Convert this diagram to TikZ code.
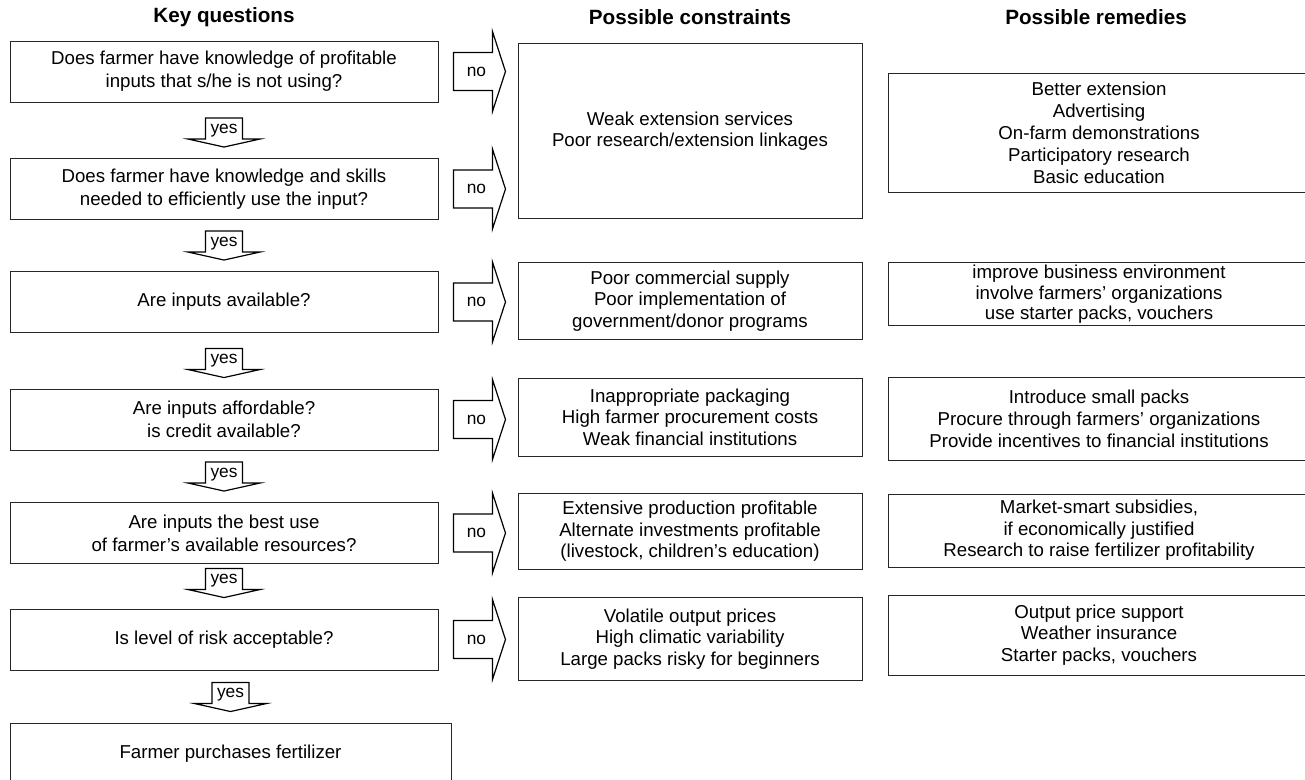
\documentclass[tikz,border=0pt]{standalone}
\usepackage{fontspec}
\setmainfont{Liberation Sans}

\begin{document}
\begin{tikzpicture}[x=0.75pt,y=-0.75pt]
					\tikzstyle{heading} = [font=\fontsize{15.5}{18}\selectfont\bfseries]
					\tikzstyle{question} = [draw=black!85,line width=0.7pt,align=center,inner ysep=1pt,minimum width=321pt,minimum height=45.75pt,font=\fontsize{14}{17}\selectfont]
					\tikzstyle{constraint} = [draw=black!85,line width=0.7pt,align=center,inner ysep=1pt,minimum width=258pt,font=\fontsize{14}{16}\selectfont]
					\tikzstyle{remedy} = [draw=black!85,line width=0.7pt,align=center,inner ysep=1pt,minimum width=316.5pt,font=\fontsize{14}{16.5}\selectfont]
					\tikzstyle{blockarrow} = [draw,line width=0.9pt]
					\tikzstyle{answer} = [inner sep=0pt,font=\fontsize{13}{15}\selectfont]
					\useasboundingbox (0,0) rectangle (1305,780);
					\node[heading] (h1) at (224,17) {Key questions};
					\node[heading] (h2) at (690,17) {Possible constraints};
					\node[heading] (h3) at (1096,17) {Possible remedies};
					\node[question] (q1) at (224,71.5) {Does farmer have knowledge of profitable\\inputs that s/he is not using?};
					\node[question] (q2) at (224,189) {Does farmer have knowledge and skills\\needed to efficiently use the input?};
					\node[question] (q3) at (224,302) {Are inputs available?};
					\node[question] (q4) at (224,419.5) {Are inputs affordable?\\is credit available?};
					\node[question] (q5) at (224,533) {Are inputs the best use\\of farmer's available resources?};
					\node[question] (q6) at (224,639.5) {Is level of risk acceptable?};
					\node[question,minimum width=330.75pt] (q7) at (230.5,753.5) {Farmer purchases fertilizer};
					\node[constraint,minimum height=131.25pt] (c1) at (690,131) {Weak extension services\\Poor research/extension linkages};
					\node[constraint,minimum height=57.75pt] (c2) at (690,301) {Poor commercial supply\\Poor implementation of\\government/donor programs};
					\node[constraint,minimum height=58.5pt] (c3) at (690,417) {Inappropriate packaging\\High farmer procurement costs\\Weak financial institutions};
					\node[constraint,minimum height=57pt] (c4) at (690,531.4) {Extensive production profitable\\Alternate investments profitable\\(livestock, children's education)};
					\node[constraint,minimum height=62.25pt] (c5) at (690,639) {Volatile output prices\\High climatic variability\\Large packs risky for beginners};
					\node[remedy,minimum height=89.25pt] (r1) at (1099,132.5) {Better extension\\Advertising\\On-farm demonstrations\\Participatory research\\Basic education};
					\node[remedy,minimum height=47.5pt,font=\fontsize{14}{15.5}\selectfont] (r2) at (1099,294.3) {improve business environment\\involve farmers' organizations\\use starter packs, vouchers};
					\node[remedy,minimum height=62.25pt] (r3) at (1099,418.5) {Introduce small packs\\Procure through farmers' organizations\\Provide incentives to financial institutions};
					\node[remedy,minimum height=54.75pt,font=\fontsize{14}{16}\selectfont] (r4) at (1099,530.5) {Market-smart subsidies,\\if economically justified\\Research to raise fertilizer profitability};
					\node[remedy,minimum height=60pt,font=\fontsize{14}{16}\selectfont] (r5) at (1099,635) {Output price support\\Weather insurance\\Starter packs, vouchers};
					% "no" arrows to the constraints
					\draw[blockarrow] (q1.east) ++(38,0) node[answer] (no1) {no} ++(-23,-19) -- ++(39,0) -- ++(0,-21) -- ++(13,40) -- ++(-13,40) -- ++(0,-21) -- ++(-39,0) -- cycle;
					\draw[blockarrow] (q2.east) ++(38,0) node[answer] (no2) {no} ++(-23,-19) -- ++(39,0) -- ++(0,-21) -- ++(13,40) -- ++(-13,40) -- ++(0,-21) -- ++(-39,0) -- cycle;
					\draw[blockarrow] (q3.east) ++(38,0) node[answer] (no3) {no} ++(-23,-19) -- ++(39,0) -- ++(0,-21) -- ++(13,40) -- ++(-13,40) -- ++(0,-21) -- ++(-39,0) -- cycle;
					\draw[blockarrow] (q4.east) ++(38,0) node[answer] (no4) {no} ++(-23,-19) -- ++(39,0) -- ++(0,-21) -- ++(13,40) -- ++(-13,40) -- ++(0,-21) -- ++(-39,0) -- cycle;
					\draw[blockarrow] (q5.east) ++(38,0) node[answer] (no5) {no} ++(-23,-19) -- ++(39,0) -- ++(0,-21) -- ++(13,40) -- ++(-13,40) -- ++(0,-21) -- ++(-39,0) -- cycle;
					\draw[blockarrow] (q6.east) ++(38,0) node[answer] (no6) {no} ++(-23,-19) -- ++(39,0) -- ++(0,-21) -- ++(13,40) -- ++(-13,40) -- ++(0,-21) -- ++(-39,0) -- cycle;
					% "yes" arrows down the questions
					\draw[blockarrow] (q2.north) ++(0,-27.5) node[answer] (yes1) {yes} ++(0,16.5) -- ++(-36,-8) -- ++(17.5,0) -- ++(0,-21) -- ++(37,0) -- ++(0,21) -- ++(17.5,0) -- cycle;
					\draw[blockarrow] (q3.north) ++(0,-27.5) node[answer] (yes2) {yes} ++(0,16.5) -- ++(-36,-8) -- ++(17.5,0) -- ++(0,-21) -- ++(37,0) -- ++(0,21) -- ++(17.5,0) -- cycle;
					\draw[blockarrow] (q4.north) ++(0,-27.5) node[answer] (yes3) {yes} ++(0,16.5) -- ++(-36,-8) -- ++(17.5,0) -- ++(0,-21) -- ++(37,0) -- ++(0,21) -- ++(17.5,0) -- cycle;
					\draw[blockarrow] (q5.north) ++(0,-27.5) node[answer] (yes4) {yes} ++(0,16.5) -- ++(-36,-8) -- ++(17.5,0) -- ++(0,-21) -- ++(37,0) -- ++(0,21) -- ++(17.5,0) -- cycle;
					\draw[blockarrow] (q6.north) ++(0,-27.5) node[answer] (yes5) {yes} ++(0,16.5) -- ++(-36,-8) -- ++(17.5,0) -- ++(0,-21) -- ++(37,0) -- ++(0,21) -- ++(17.5,0) -- cycle;
					\draw[blockarrow] (q7.north) ++(0,-27.5) node[answer] (yes6) {yes} ++(0,16.5) -- ++(-36,-8) -- ++(17.5,0) -- ++(0,-21) -- ++(37,0) -- ++(0,21) -- ++(17.5,0) -- cycle;
					\end{tikzpicture}
\end{document}
